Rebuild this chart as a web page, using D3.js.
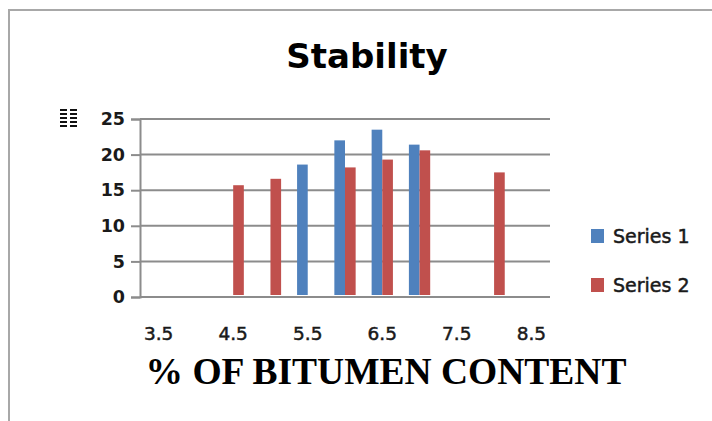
<!DOCTYPE html>
<html><head><meta charset="utf-8">
<script src="https://cdn.jsdelivr.net/npm/d3@7/dist/d3.min.js"></script>
<style>html,body{margin:0;padding:0;background:#fff;}svg{display:block;}</style>
</head><body>
<script>
const categories = ["3.5","4.0","4.5","5.0","5.5","6.0","6.5","7.0","7.5","8.0","8.5"];
const series1 = [null,null,null,null,18.6,22.0,23.5,21.4,null,null,null];
const series2 = [null,null,15.7,16.6,null,18.2,19.3,20.6,null,17.5,null];
const seriesNames = ["Series 1","Series 2"];
const seriesColors = ["#4F81BD","#C0504D"];
const xTickLabels = ["3.5","4.5","5.5","6.5","7.5","8.5"];
const yTicks = [0,5,10,15,20,25];
const title = "Stability";
const xTitle = "% OF BITUMEN CONTENT";

const W = 712, H = 421;
const svg = d3.select("body").append("svg").attr("width", W).attr("height", H);

// frame
svg.append("path").attr("d", `M9,${H} L9,10 L${W},10`).attr("fill","none")
  .attr("stroke","#a8a8a8").attr("stroke-width",2);

const x = d3.scaleBand().domain(categories).range([140, 550]).paddingInner(0).paddingOuter(0);
const xs = d3.scaleBand().domain(seriesNames).range([0, x.bandwidth()]).paddingInner(0).paddingOuter(0.75);
const y = d3.scaleLinear().domain([0, 25]).range([297, 119]);

// gridlines
svg.append("g").selectAll("line").data(yTicks).join("line")
  .attr("x1", 140).attr("x2", 550)
  .attr("y1", d => y(d)).attr("y2", d => y(d))
  .attr("stroke", "#8c8c8c").attr("stroke-width", 2);

// y axis
const yAxis = d3.axisLeft(y).tickValues(yTicks).tickSize(9).tickPadding(6);
const gy = svg.append("g").attr("transform", "translate(140,0)").call(yAxis);
gy.select(".domain").attr("stroke", "#8c8c8c").attr("stroke-width", 2);
gy.selectAll(".tick line").attr("stroke", "#8c8c8c").attr("stroke-width", 2);
gy.selectAll(".tick text").attr("font-family", "DejaVu Sans").attr("font-weight", "bold")
  .attr("font-size", 17.5).attr("fill", "#1a1a1a");

// bars
const data = [series1, series2];
data.forEach((vals, si) => {
  svg.append("g").selectAll("rect")
    .data(categories.map((c, i) => ({c, v: vals[i]})).filter(d => d.v != null))
    .join("rect")
    .attr("x", d => x(d.c) + xs(seriesNames[si]))
    .attr("width", xs.bandwidth())
    .attr("y", d => y(d.v))
    .attr("height", d => y(0) - 2 - y(d.v))
    .attr("fill", seriesColors[si]);
});

// x tick labels
svg.append("g").selectAll("text").data(xTickLabels).join("text")
  .attr("x", d => x(d) + x.bandwidth() / 2)
  .attr("y", 340)
  .attr("text-anchor", "middle")
  .attr("font-family", "DejaVu Sans").attr("font-size", 18.5)
  .attr("fill", "#1a1a1a").attr("stroke", "#1a1a1a").attr("stroke-width", 0.5)
  .text(d => d);

// small icon near y axis
const icon = svg.append("g");
[0,1].forEach(c => {
  [0,1,2,3,4].forEach(r => {
    icon.append("rect").attr("x", 60 + c * 10).attr("y", 109 + r * 4)
      .attr("width", 7).attr("height", 2).attr("fill", "#111");
  });
});

// title
svg.append("text").attr("x", 367).attr("y", 68).attr("text-anchor", "middle")
  .attr("font-family", "DejaVu Sans").attr("font-weight", "bold").attr("font-size", 34)
  .attr("fill", "#000").text(title);

// x axis title
svg.append("text").attr("x", 386).attr("y", 384).attr("text-anchor", "middle")
  .attr("font-family", "Liberation Serif").attr("font-weight", "bold").attr("font-size", 37.5)
  .attr("fill", "#000").text(xTitle);

// legend
const leg = svg.append("g").selectAll("g").data(seriesNames).join("g")
  .attr("transform", (d, i) => `translate(591,${229 + i * 49})`);
leg.append("rect").attr("width", 13).attr("height", 14).attr("fill", (d, i) => seriesColors[i]);
leg.append("text").attr("x", 22).attr("y", 14).attr("font-family", "DejaVu Sans")
  .attr("font-size", 19).attr("fill", "#1a1a1a").attr("stroke", "#1a1a1a").attr("stroke-width", 0.5)
  .text(d => d);
</script>
</body></html>
